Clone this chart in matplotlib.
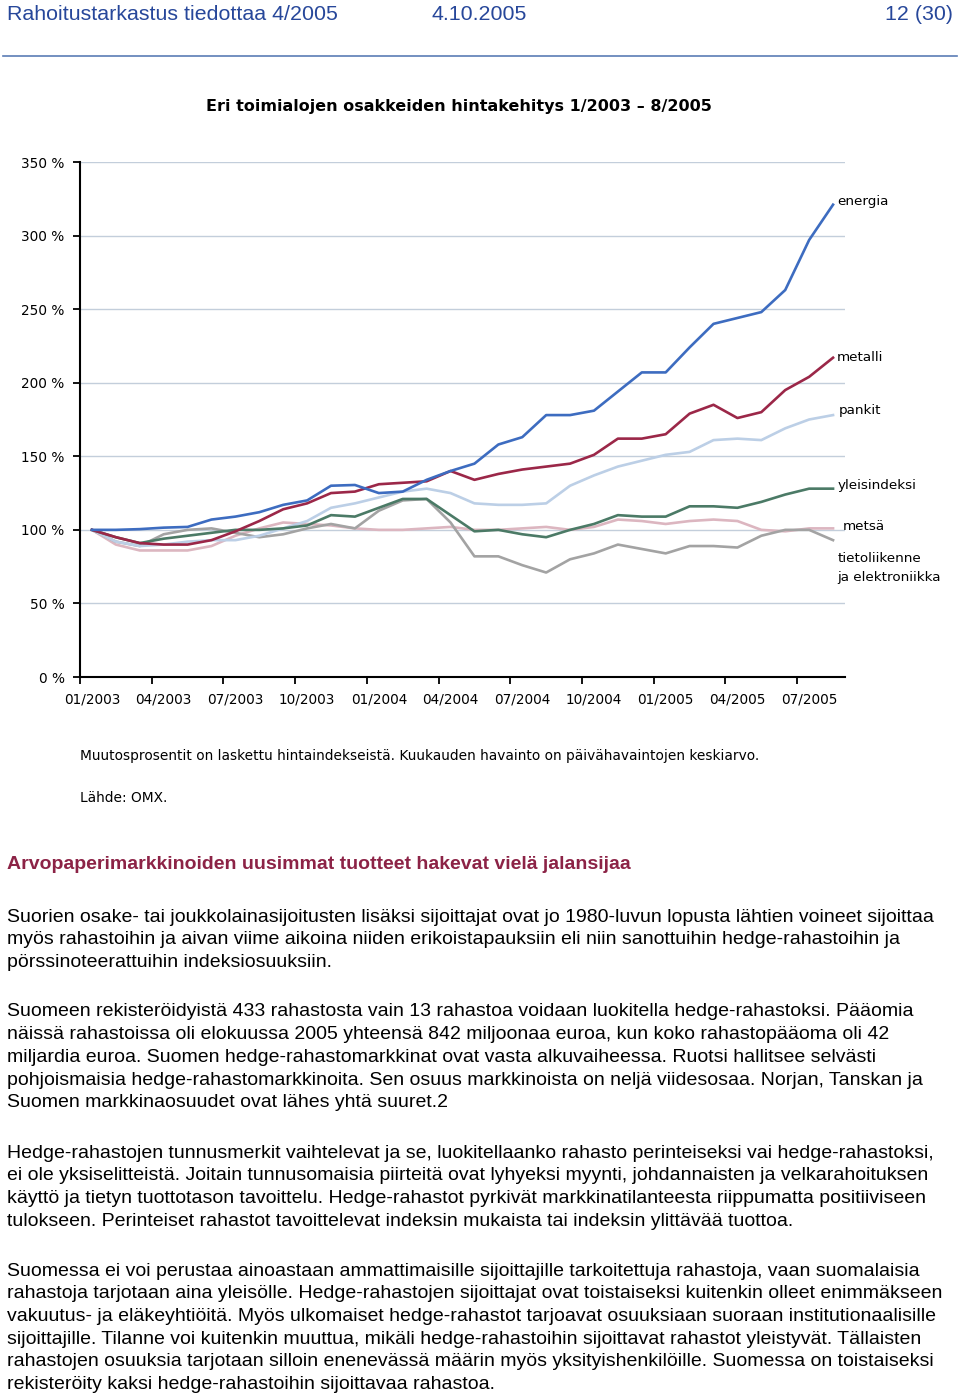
import matplotlib
matplotlib.use("Agg")
import matplotlib.pyplot as plt
from matplotlib.ticker import FixedLocator, FuncFormatter

# monthly observations 01/2003 - 08/2005, index level (01/2003 = 100 %)
months = ["01/2003", "02/2003", "03/2003", "04/2003", "05/2003", "06/2003", "07/2003", "08/2003",
          "09/2003", "10/2003", "11/2003", "12/2003", "01/2004", "02/2004", "03/2004", "04/2004",
          "05/2004", "06/2004", "07/2004", "08/2004", "09/2004", "10/2004", "11/2004", "12/2004",
          "01/2005", "02/2005", "03/2005", "04/2005", "05/2005", "06/2005", "07/2005", "08/2005"]

energia = [100, 100, 100.5, 101.5, 102, 107, 109, 112, 117, 120, 130, 130.5, 125, 126, 134, 140,
           145, 158, 163, 178, 178, 181, 194, 207, 207, 224, 240, 244, 248, 263, 297, 321]
metalli = [100, 95, 91, 90, 90, 93, 99, 106, 114, 118, 125, 126, 131, 132, 133, 140,
           134, 138, 141, 143, 145, 151, 162, 162, 165, 179, 185, 176, 180, 195, 204, 217]
pankit = [100, 92, 89, 90, 92, 93, 93, 96, 101, 106, 115, 118, 122, 126, 128, 125,
          118, 117, 117, 118, 130, 137, 143, 147, 151, 153, 161, 162, 161, 169, 175, 178]
yleisindeksi = [100, 95, 91, 94, 96, 98, 100, 100, 101, 103, 110, 109, 115, 121, 121, 110,
                99, 100, 97, 95, 100, 104, 110, 109, 109, 116, 116, 115, 119, 124, 128, 128]
metsa = [100, 90, 86, 86, 86, 89, 96, 101, 105, 104, 103, 101, 100, 100, 101, 102,
         100, 100, 101, 102, 100, 102, 107, 106, 104, 106, 107, 106, 100, 99, 101, 101]
tietoliikenne = [100, 92, 89, 97, 100, 101, 98, 95, 97, 101, 104, 101, 113, 120, 121, 105,
                 82, 82, 76, 71, 80, 84, 90, 87, 84, 89, 89, 88, 96, 100, 100, 93]

series = [
    ("energia", energia, "#3d6cc0", (3, 2)),
    ("metalli", metalli, "#9b2748", (3, 0)),
    ("pankit", pankit, "#bccfe6", (4, 3)),
    ("yleisindeksi", yleisindeksi, "#4b7a66", (3, 2)),
    ("metsä", metsa, "#dcb6c0", (7, 1)),
    ("tietoliikenne\nja elektroniikka", tietoliikenne, "#a3a3a3", (3, -20)),
]
order = [4, 5, 2, 3, 1, 0]  # draw the flat ones first

y_ticks = [0, 50, 100, 150, 200, 250, 300, 350]

W, H = 960, 1398
fig = plt.figure(figsize=(W / 100, H / 100), dpi=100)

def px(x, y):
    return x / W, 1 - y / H

# page header
hdr_blue = "#27479a"
fig.text(*px(7, 15), "Rahoitustarkastus tiedottaa 4/2005", fontsize=15.4, color=hdr_blue,
         family="Liberation Sans", va="center")
fig.text(*px(432, 15), "4.10.2005", fontsize=15.4, color=hdr_blue, family="Liberation Sans", va="center")
fig.text(*px(953, 15), "12 (30)", fontsize=15.4, color=hdr_blue, family="Liberation Sans",
         va="center", ha="right")
fig.add_artist(plt.Line2D([3 / W, 957 / W], [1 - 56 / H, 1 - 56 / H], color="#5b7db5", lw=1.2))

# chart
ax = fig.add_axes([80 / W, 1 - 677 / H, 765 / W, 515 / H])
x = list(range(len(months)))
for i in order:
    name, vals, col, off = series[i]
    ax.plot(x, vals, color=col, lw=1.9, solid_joinstyle="round", zorder=3)
    ax.annotate(name, xy=(x[-1], vals[-1]), xytext=off, textcoords="offset points",
                fontsize=9.7, va="center", ha="left", linespacing=1.6, annotation_clip=False)

ax.set_xlim(-0.5, len(months) - 0.5)
ax.set_ylim(0, 350)
for v in y_ticks[1:]:
    ax.axhline(v, color="#c3cedb", lw=1, zorder=1)
ax.set_yticks(y_ticks)
ax.yaxis.set_major_formatter(FuncFormatter(lambda v, p: "%d %%" % v))
ax.xaxis.set_major_locator(FixedLocator([i - 0.5 for i in range(0, len(months), 3)]))
ax.xaxis.set_major_formatter(FuncFormatter(lambda v, p: ""))
ax.xaxis.set_minor_locator(FixedLocator(list(range(0, len(months), 3))))
ax.set_xticklabels([months[i] for i in range(0, len(months), 3)], minor=True)
ax.tick_params(axis="x", which="minor", length=0, pad=11, labelsize=9.8)
ax.tick_params(axis="x", which="major", length=5, width=1.3, direction="out")
ax.tick_params(axis="y", length=5, width=1.3, direction="out", labelsize=9.8, pad=6)
for s in ["top", "right"]:
    ax.spines[s].set_visible(False)
for s in ["left", "bottom"]:
    ax.spines[s].set_linewidth(1.5)

fig.text(*px(459, 106), "Eri toimialojen osakkeiden hintakehitys 1/2003 – 8/2005",
         fontsize=11.5, weight="bold", ha="center", va="center")
fig.text(*px(80, 756), "Muutosprosentit on laskettu hintaindekseistä. Kuukauden havainto on päivähavaintojen keskiarvo.",
         fontsize=9.9, va="center")
fig.text(*px(80, 798), "Lähde: OMX.", fontsize=9.9, va="center")

# article text
fig.text(*px(7, 864), "Arvopaperimarkkinoiden uusimmat tuotteet hakevat vielä jalansijaa",
         fontsize=14, weight="bold", color="#8c2346", family="Liberation Sans", va="center")

paragraphs = [
    (917, ["Suorien osake- tai joukkolainasijoitusten lisäksi sijoittajat ovat jo 1980-luvun lopusta lähtien voineet sijoittaa",
           "myös rahastoihin ja aivan viime aikoina niiden erikoistapauksiin eli niin sanottuihin hedge-rahastoihin ja",
           "pörssinoteerattuihin indeksiosuuksiin."]),
    (1012, ["Suomeen rekisteröidyistä 433 rahastosta vain 13 rahastoa voidaan luokitella hedge-rahastoksi. Pääomia",
            "näissä rahastoissa oli elokuussa 2005 yhteensä 842 miljoonaa euroa, kun koko rahastopääoma oli 42",
            "miljardia euroa. Suomen hedge-rahastomarkkinat ovat vasta alkuvaiheessa. Ruotsi hallitsee selvästi",
            "pohjoismaisia hedge-rahastomarkkinoita. Sen osuus markkinoista on neljä viidesosaa. Norjan, Tanskan ja",
            "Suomen markkinaosuudet ovat lähes yhtä suuret.2"]),
    (1153, ["Hedge-rahastojen tunnusmerkit vaihtelevat ja se, luokitellaanko rahasto perinteiseksi vai hedge-rahastoksi,",
            "ei ole yksiselitteistä. Joitain tunnusomaisia piirteitä ovat lyhyeksi myynti, johdannaisten ja velkarahoituksen",
            "käyttö ja tietyn tuottotason tavoittelu. Hedge-rahastot pyrkivät markkinatilanteesta riippumatta positiiviseen",
            "tulokseen. Perinteiset rahastot tavoittelevat indeksin mukaista tai indeksin ylittävää tuottoa."]),
    (1271, ["Suomessa ei voi perustaa ainoastaan ammattimaisille sijoittajille tarkoitettuja rahastoja, vaan suomalaisia",
            "rahastoja tarjotaan aina yleisölle. Hedge-rahastojen sijoittajat ovat toistaiseksi kuitenkin olleet enimmäkseen",
            "vakuutus- ja eläkeyhtiöitä. Myös ulkomaiset hedge-rahastot tarjoavat osuuksiaan suoraan institutionaalisille",
            "sijoittajille. Tilanne voi kuitenkin muuttua, mikäli hedge-rahastoihin sijoittavat rahastot yleistyvät. Tällaisten",
            "rahastojen osuuksia tarjotaan silloin enenevässä määrin myös yksityishenkilöille. Suomessa on toistaiseksi",
            "rekisteröity kaksi hedge-rahastoihin sijoittavaa rahastoa."]),
]
for y0, lines in paragraphs:
    for k, line in enumerate(lines):
        fig.text(*px(7, y0 + k * 22.7), line, fontsize=14, family="Liberation Sans", va="center")

fig.savefig("out.png", dpi=100)
